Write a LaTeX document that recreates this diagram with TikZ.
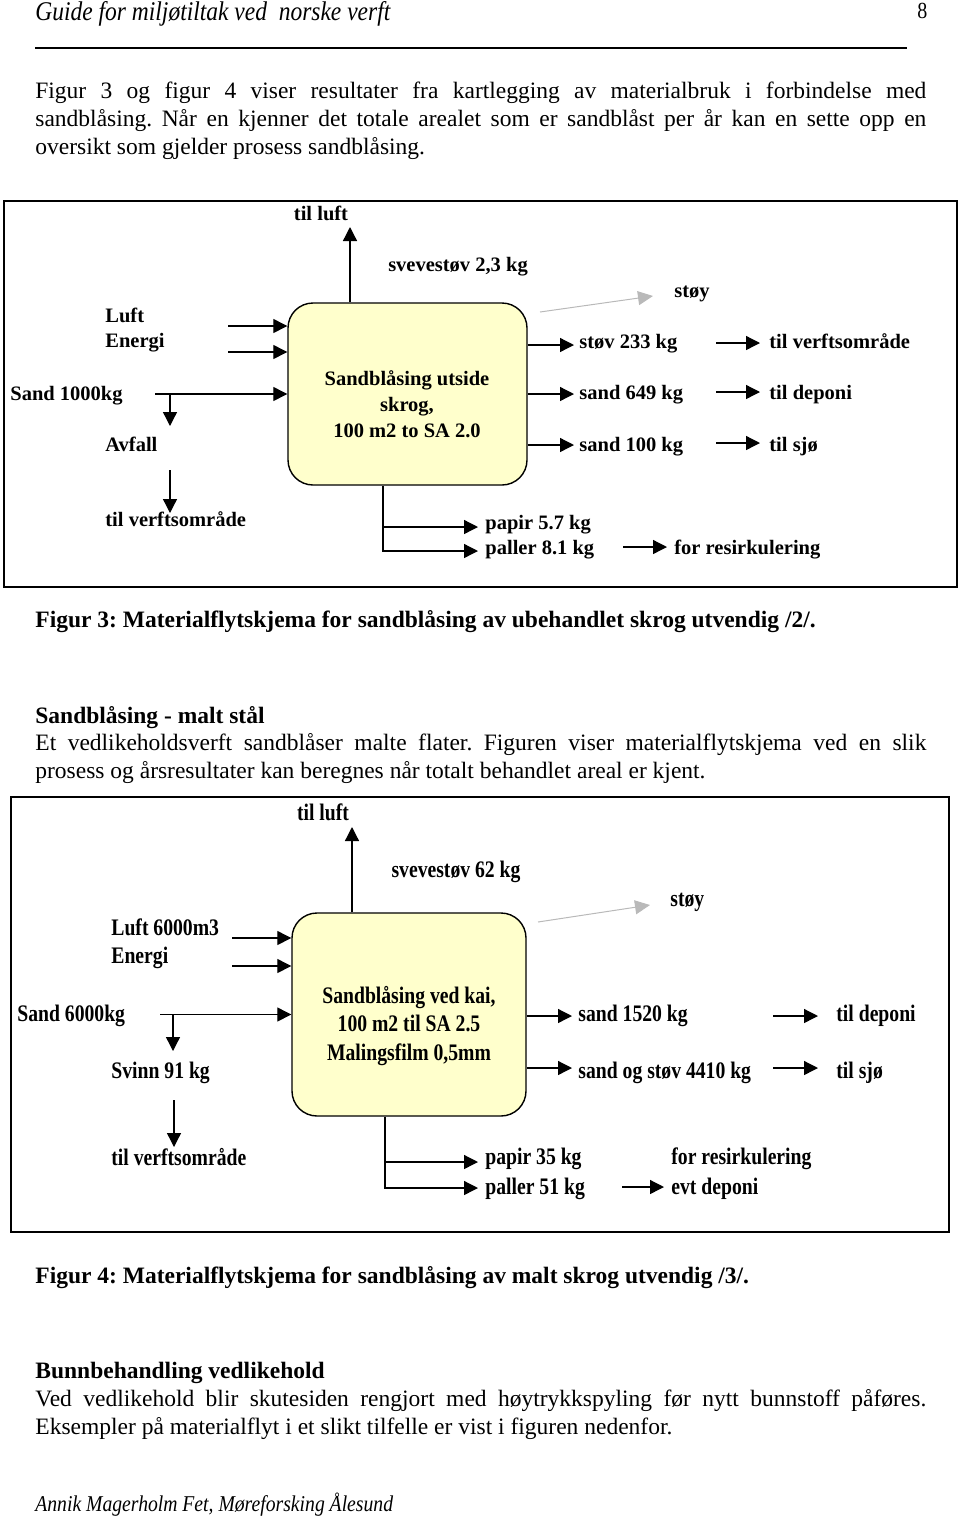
\documentclass[tikz,border=0pt]{standalone}
\usepackage{fontspec}
\setmainfont{Liberation Serif}
\newfontfamily\condserif[FakeStretch=0.83]{Liberation Serif}
\newfontfamily\headserif[FakeStretch=0.87]{Liberation Serif}
\usetikzlibrary{arrows.meta,positioning}
\frenchspacing

\definecolor{procfill}{RGB}{255,255,204}
\definecolor{noisegray}{RGB}{185,185,185}

\newcommand{\fullline}[1]{\makebox[445.5pt][s]{#1}}

\tikzset{
  every node/.style={inner sep=0pt},
  bodytext/.style={anchor=base west,font=\fontsize{11.75}{14}\selectfont},
  headtext/.style={anchor=base west,font=\fontsize{11.75}{14}\selectfont\bfseries},
  pagetext/.style={anchor=base west,font=\headserif\itshape\fontsize{13.5}{16}\selectfont},
  lblA/.style={anchor=west,font=\fontsize{10.25}{12.3}\selectfont\bfseries,execute at begin node=\strut},
  lblB/.style={anchor=west,font=\condserif\fontsize{11.85}{14.2}\selectfont\bfseries,execute at begin node=\strut},
  process/.style={draw,line width=0.7pt,fill=procfill,rounded corners=12.5pt},
  flow/.style={line width=0.65pt,-{Triangle[length=7pt,width=7pt]}},
  noise/.style={noisegray,line width=0.5pt,-{Triangle[length=7.5pt,width=7pt]}},
  frame/.style={line width=0.8pt}
}

\begin{document}
\begin{tikzpicture}[x=0.5pt,y=-0.5pt]
\useasboundingbox (0,0) rectangle (960,1516);

% page head
\node[pagetext] (head) at (35,20) {Guide for miljøtiltak ved\ \ norske verft};
\node[pagetext,font=\headserif\fontsize{11.5}{14}\selectfont] (pageno) at (917,18) {8};
\coordinate (rule0) at (35,48);
\coordinate (rule1) at (907,48);
\draw[line width=0.7pt] (rule0) -- (rule1);

\node[bodytext] (introa) at (35,98) {\fullline{Figur 3 og figur 4 viser resultater fra kartlegging av materialbruk i forbindelse med}};
\node[bodytext] (introb) at (35,126) {\fullline{sandblåsing. Når en kjenner det totale arealet som er sandblåst per år kan en sette opp en}};
\node[bodytext] (introc) at (35,154) {oversikt som gjelder prosess sandblåsing.};

% figur 3
\draw[frame] (4,201) rectangle (957,587);
\node[process,minimum width=119.5pt,minimum height=91pt] (procA) at (407.5,394) {};
\node[align=center,font=\fontsize{10.25}{13}\selectfont\bfseries] (procAtxt) at (407,404)
  {Sandblåsing utside\\skrog,\\100 m2 to SA 2.0};

\foreach \nm/\x/\y/\txt in {
  luft/105/318/Luft, energi/105/343/Energi, sand/10/396/{Sand 1000kg},
  avfall/105/447/Avfall, verft/105/522/{til verftsområde},
  papir/485/525/{papir 5.7 kg}, paller/485/550/{paller 8.1 kg},
  resirk/674/550/{for resirkulering}, stoy/674/293/støy,
  stov/579/344/{støv 233 kg}, sandut/579/395/{sand 649 kg}, sandsjo/579/447/{sand 100 kg},
  tilverft/769/344/{til verftsområde}, deponi/769/395/{til deponi}, sjo/769/447/{til sjø}}
  \node[lblA] (lA-\nm) at (\x,\y) {\txt};
\node[lblA,anchor=center] (lA-tilluft) at (321,216) {til luft};
\node[lblA,anchor=center] (lA-svev) at (458,267) {svevestøv 2,3 kg};

\foreach \n/\y in {luft/326,energi/352} {
  \coordinate (inA-\n) at (228,\y);
  \draw[flow] (inA-\n) -- (inA-\n -| procA.west);
}
\coordinate (inA-sand) at (155,394);
\draw[flow] (inA-sand) -- (procA.west);
\coordinate (avfallA) at (170,426);
\draw[flow] (inA-sand -| avfallA) -- (avfallA);
\coordinate (verftA0) at (170,470);
\coordinate (verftA1) at (170,513);
\draw[flow] (verftA0) -- (verftA1);
\coordinate (upA) at (350,227);
\draw[flow] (procA.north -| upA) -- (upA);
\coordinate (noiseA0) at (540,312);
\coordinate (noiseA1) at (653,296);
\draw[noise] (noiseA0) -- (noiseA1);

\foreach \n/\y in {stov/345,sand/394,sjo/445} {
  \coordinate (outA-\n) at (574,\y);
  \draw[flow] (procA.east |- outA-\n) -- (outA-\n);
  \coordinate (destA-\n) at (760,\y-2);
  \draw[flow] ([xshift=-22pt]destA-\n) -- (destA-\n);
}

\coordinate (trunkA) at (383,552);
\draw[line width=0.65pt] (procA.south -| trunkA) -- (trunkA);
\coordinate (papirA) at (478,527);
\coordinate (pallerA) at (478,551);
\draw[flow] (trunkA |- papirA) -- (papirA);
\draw[flow] (trunkA |- pallerA) -- (pallerA);
\coordinate (resirkA) at (667,547);
\draw[flow] ([xshift=-22pt]resirkA) -- (resirkA);

\node[headtext] (capA) at (35,627) {Figur 3: Materialflytskjema for sandblåsing av ubehandlet skrog utvendig /2/.};

\node[headtext] (headB) at (35,723) {Sandblåsing - malt stål};
\node[bodytext] (textBa) at (35,750) {\fullline{Et vedlikeholdsverft sandblåser malte flater. Figuren viser materialflytskjema ved en slik}};
\node[bodytext] (textBb) at (35,778) {prosess og årsresultater kan beregnes når totalt behandlet areal er kjent.};

% figur 4
\draw[frame] (11,797) rectangle (949,1232);
\node[process,minimum width=117pt,minimum height=101.5pt] (procB) at (409,1014.5) {};
\node[align=center,font=\condserif\fontsize{11.85}{14.25}\selectfont\bfseries] (procBtxt) at (409,1026)
  {Sandblåsing ved kai,\\100 m2 til SA 2.5\\Malingsfilm 0,5mm};

\foreach \nm/\x/\y/\txt in {
  luft/111/930/{Luft 6000m3}, energi/111/958/Energi, sand/17/1016/{Sand 6000kg},
  svinn/111/1073/{Svinn 91 kg}, verft/111/1160/{til verftsområde},
  papir/485/1159/{papir 35 kg}, paller/485/1189/{paller 51 kg},
  resirk/671/1159/{for resirkulering}, evt/671/1189/{evt deponi}, stoy/670/901/støy,
  sandut/578/1016/{sand 1520 kg}, sandsjo/578/1073/{sand og støv 4410 kg},
  deponi/836/1016/{til deponi}, sjo/836/1073/{til sjø}}
  \node[lblB] (lB-\nm) at (\x,\y) {\txt};
\node[lblB,anchor=center] (lB-tilluft) at (323,815) {til luft};
\node[lblB,anchor=center] (lB-svev) at (456,872) {svevestøv 62 kg};

\foreach \n/\y in {luft/938,energi/966} {
  \coordinate (inB-\n) at (232,\y);
  \draw[flow] (inB-\n) -- (inB-\n -| procB.west);
}
\coordinate (inB-sand) at (160,1014.5);
\draw[flow] (inB-sand) -- (procB.west);
\coordinate (svinnB) at (173,1051);
\draw[flow] (inB-sand -| svinnB) -- (svinnB);
\coordinate (verftB0) at (174,1100);
\coordinate (verftB1) at (174,1147);
\draw[flow] (verftB0) -- (verftB1);
\coordinate (upB) at (352,827);
\draw[flow] (procB.north -| upB) -- (upB);
\coordinate (noiseB0) at (538,922);
\coordinate (noiseB1) at (650,905);
\draw[noise] (noiseB0) -- (noiseB1);

\foreach \n/\y in {sand/1016,sjo/1068} {
  \coordinate (outB-\n) at (572,\y);
  \draw[flow] (procB.east |- outB-\n) -- (outB-\n);
  \coordinate (destB-\n) at (818,\y);
  \draw[flow] ([xshift=-22.5pt]destB-\n) -- (destB-\n);
}

\coordinate (trunkB) at (385,1189);
\draw[line width=0.65pt] (procB.south -| trunkB) -- (trunkB);
\coordinate (papirB) at (478,1162);
\coordinate (pallerB) at (478,1188);
\draw[flow] (trunkB |- papirB) -- (papirB);
\draw[flow] (trunkB |- pallerB) -- (pallerB);
\coordinate (evtB) at (664,1187);
\draw[flow] ([xshift=-21pt]evtB) -- (evtB);

\node[headtext] (capB) at (35,1283) {Figur 4: Materialflytskjema for sandblåsing av malt skrog utvendig /3/.};

\node[headtext] (headC) at (35,1378) {Bunnbehandling vedlikehold};
\node[bodytext] (textCa) at (35,1406) {\fullline{Ved vedlikehold blir skutesiden rengjort med høytrykkspyling før nytt bunnstoff påføres.}};
\node[bodytext] (textCb) at (35,1434) {Eksempler på materialflyt i et slikt tilfelle er vist i figuren nedenfor.};

\node[pagetext,font=\headserif\itshape\fontsize{11.3}{14}\selectfont] (foot) at (35,1511) {Annik Magerholm Fet, Møreforsking Ålesund};
\end{tikzpicture}
\end{document}
